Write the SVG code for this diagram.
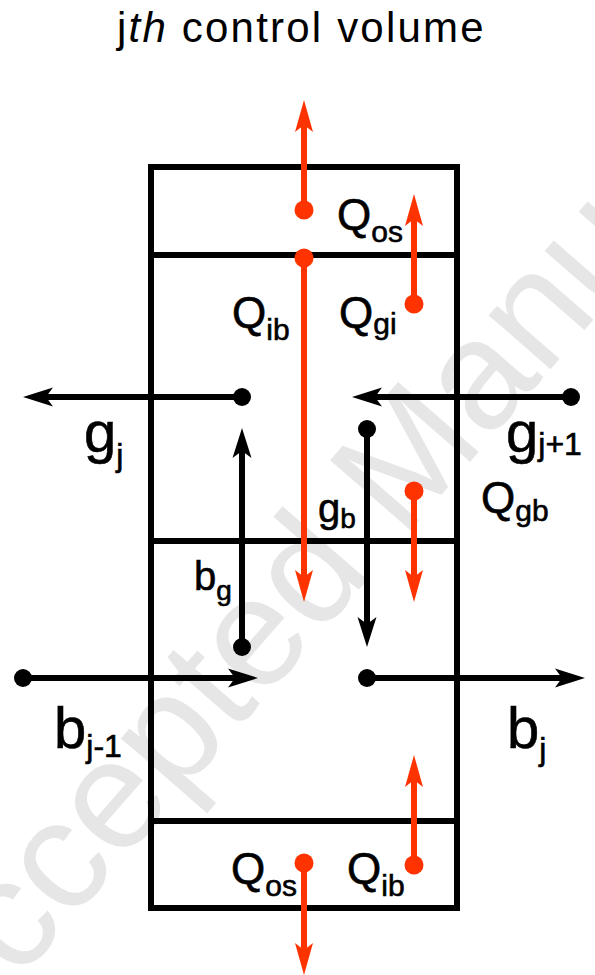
<svg xmlns="http://www.w3.org/2000/svg" width="595" height="975" viewBox="0 0 595 975">
<style>
text{font-family:"Liberation Sans",Arial,sans-serif;fill:#000}
.lab{stroke:#000;stroke-width:0.6}
.wm{font-size:155px;fill:#e6e6e6}
.title{font-size:42px;letter-spacing:2.2px}
.box{fill:none;stroke:#000;stroke-width:6}
.bk{stroke:#000;stroke-width:6;fill:none}
.rd{stroke:#ff3300;stroke-width:6;fill:none}
.dk{fill:#000}
.dr{fill:#ff3300}
.q{font-size:44px}
.qs{font-size:30px}
.big{font-size:58px}
.bs{font-size:32px}
.mid{font-size:40px}
.ms{font-size:28px}
</style>
<defs>
<marker id="ab" markerUnits="userSpaceOnUse" markerWidth="32" markerHeight="22" refX="7" refY="10" orient="auto" overflow="visible">
<path d="M30,10 L0,0.5 L7,10 L0,19.5 Z" fill="#000"/>
</marker>
<marker id="ar" markerUnits="userSpaceOnUse" markerWidth="34" markerHeight="22" refX="7" refY="10" orient="auto" overflow="visible">
<path d="M32,10 L0,1 L7,10 L0,19 Z" fill="#ff3300"/>
</marker>
</defs>
<rect width="595" height="975" fill="#fff"/>
<text class="wm" x="-50" y="1060" transform="rotate(-49 -50 1060)">Accepted Manuscript</text>

<g id="title"><text class="title" x="117" y="42">j<tspan font-style="italic">th</tspan> control volume</text></g>

<g id="volume">
<rect class="box" x="151" y="167" width="306" height="741"/>
<line class="box" x1="151" y1="255" x2="457" y2="255"/>
<line class="box" x1="151" y1="541" x2="457" y2="541"/>
<line class="box" x1="151" y1="821" x2="457" y2="821"/>
</g>

<g id="connectors">
<line class="bk" x1="242" y1="397" x2="46" y2="397" marker-end="url(#ab)"/>
<line class="bk" x1="571" y1="397" x2="375" y2="397" marker-end="url(#ab)"/>
<line class="bk" x1="242" y1="647" x2="242" y2="451" marker-end="url(#ab)"/>
<line class="bk" x1="367" y1="429" x2="367" y2="624" marker-end="url(#ab)"/>
<line class="bk" x1="23" y1="678" x2="235" y2="678" marker-end="url(#ab)"/>
<line class="bk" x1="367" y1="678" x2="562" y2="678" marker-end="url(#ab)"/>
<line class="rd" x1="304" y1="210" x2="304" y2="125" marker-end="url(#ar)"/>
<line class="rd" x1="304" y1="258" x2="304" y2="577" marker-end="url(#ar)"/>
<line class="rd" x1="414" y1="304" x2="414" y2="219" marker-end="url(#ar)"/>
<line class="rd" x1="414" y1="491" x2="414" y2="577" marker-end="url(#ar)"/>
<line class="rd" x1="414" y1="865" x2="414" y2="780" marker-end="url(#ar)"/>
<line class="rd" x1="304" y1="863" x2="304" y2="950" marker-end="url(#ar)"/>
<circle class="dk" cx="242" cy="397" r="9"/>
<circle class="dk" cx="571" cy="397" r="9"/>
<circle class="dk" cx="242" cy="647" r="9"/>
<circle class="dk" cx="367" cy="429" r="9"/>
<circle class="dk" cx="23" cy="678" r="9"/>
<circle class="dk" cx="367" cy="678" r="9"/>
<circle class="dr" cx="304" cy="210" r="9.5"/>
<circle class="dr" cx="304" cy="258" r="9.5"/>
<circle class="dr" cx="414" cy="304" r="9.5"/>
<circle class="dr" cx="414" cy="491" r="9.5"/>
<circle class="dr" cx="414" cy="865" r="9.5"/>
<circle class="dr" cx="304" cy="863" r="9.5"/>
</g>

<g id="label-Qos-top"><text class="q lab" x="337" y="230">Q<tspan class="qs" dy="12">os</tspan></text></g>
<g id="label-Qib-top"><text class="q lab" x="232" y="328">Q<tspan class="qs" dy="12">ib</tspan></text></g>
<g id="label-Qgi"><text class="q lab" x="339" y="328">Q<tspan class="qs" dy="6">gi</tspan></text></g>
<g id="label-gj"><text class="big lab" x="84" y="452">g<tspan class="bs" dy="14">j</tspan></text></g>
<g id="label-gj1"><text class="big lab" x="506" y="452">g<tspan class="bs" dy="3">j+1</tspan></text></g>
<g id="label-gb"><text class="mid lab" x="318" y="522">g<tspan class="ms" dy="6">b</tspan></text></g>
<g id="label-Qgb"><text class="q lab" x="481" y="513">Q<tspan class="qs" dy="8">gb</tspan></text></g>
<g id="label-bg"><text class="mid lab" x="194" y="590">b<tspan class="ms" dy="10">g</tspan></text></g>
<g id="label-bj1"><text class="big lab" x="54" y="748">b<tspan class="bs" dy="9">j-1</tspan></text></g>
<g id="label-bj"><text class="big lab" x="507" y="748">b<tspan class="bs" dy="12">j</tspan></text></g>
<g id="label-Qos-bot"><text class="q lab" x="231" y="884">Q<tspan class="qs" dy="12">os</tspan></text></g>
<g id="label-Qib-bot"><text class="q lab" x="347" y="884">Q<tspan class="qs" dy="12">ib</tspan></text></g>
</svg>
